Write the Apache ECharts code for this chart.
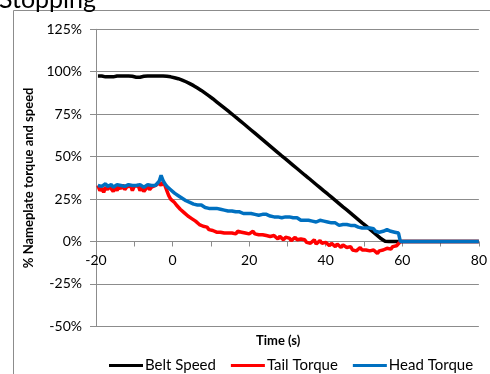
<!DOCTYPE html>
<html>
<head>
<meta charset="utf-8">
<script src="https://cdn.jsdelivr.net/npm/echarts@6/dist/echarts.min.js"></script>
<style>
  html, body { margin: 0; padding: 0; background: #fff; }
  #chart { width: 490px; height: 374px; }
</style>
</head>
<body>
<div id="chart"></div>
<script>
// samples every 0.5 s from -19.5 s to 60 s, then one last sample at 80 s
const tStart = -19.5
const tStep = 0.5
const tEnd = 80

// % of nameplate
const beltSpeed = [
  97.5, 97.5, 97.5, 97.5, 97, 96.8, 97, 96.8, 97, 97.3,
  97.5, 97.5, 97.5, 97.5, 97.5, 97.5, 97.5, 97.5, 97.3, 97,
  96.8, 96.8, 96.8, 97, 97.3, 97.5, 97.5, 97.5, 97.5, 97.5,
  97.5, 97.5, 97.5, 97.5, 97.5, 97.4, 97.3, 97.2, 97, 96.8,
  96.5, 96.2, 95.9, 95.5, 95.1, 94.6, 94.1, 93.6, 93, 92.4,
  91.8, 91.1, 90.4, 89.7, 89, 88.2, 87.4, 86.6, 85.8, 85,
  84.1, 83.2, 82.3, 81.4, 80.5, 79.6, 78.7, 77.8, 76.9, 76,
  75.1, 74.2, 73.2, 72.3, 71.4, 70.4, 69.5, 68.5, 67.6, 66.6,
  65.7, 64.7, 63.8, 62.8, 61.9, 60.9, 60, 59, 58.1, 57.1,
  56.2, 55.3, 54.3, 53.4, 52.4, 51.5, 50.5, 49.6, 48.7, 47.7,
  46.8, 45.8, 44.9, 43.9, 43, 42.1, 41.1, 40.2, 39.2, 38.3,
  37.4, 36.4, 35.5, 34.5, 33.6, 32.7, 31.7, 30.8, 29.8, 28.9,
  28, 27, 26.1, 25.1, 24.2, 23.3, 22.3, 21.4, 20.4, 19.5,
  18.6, 17.6, 16.7, 15.7, 14.8, 13.9, 12.9, 12, 11, 10.1,
  9.2, 8.2, 7.3, 6.3, 5.4, 4.5, 3.5, 2.6, 1.6, 0.8,
  0.2, 0, 0, 0, 0, 0, 0, 0, 0, 0,
  0
]

const tailTorque = [
  33, 30, 31.5, 29, 32, 30.5, 33, 31, 29.5, 32,
  30, 32.5, 31, 33.5, 30.5, 32, 31, 33, 30, 32.5,
  31.5, 33, 30, 32, 29.5, 31, 33, 30.5, 32, 31,
  33, 32, 34.5, 33, 35, 33, 30, 27, 25, 24,
  23, 21.5, 20.5, 19, 18.5, 17, 16.5, 15, 14, 13.5,
  12.5, 12, 11, 10, 9.5, 9, 8, 8.5, 7, 7.5,
  6.5, 6, 5.5, 5, 5.5, 4.5, 5, 4, 5, 4.5,
  5, 5.5, 4.5, 6, 5, 5.5, 6, 5, 5.5, 4.5,
  5.5, 6, 4.5, 5, 4, 3.5, 4, 3, 3.5, 2.5,
  3, 2, 3.5, 2.5, 1.5, 3, 2, 1, 2.5, 1.5,
  2, 0.5, 1.5, 2.5, 1, 0, 1.5, 0.5, 1, -0.5,
  0.5, -1, 0, 1, -1.5, -0.5, 0.5, -1, -2, -0.5,
  -1.5, -2.5, -1, -2, -3, -1.5, -2.5, -3.5, -2, -3,
  -3.5, -4.5, -3, -5, -4, -5.5, -4.5, -3.5, -5, -6,
  -5, -6, -5.5, -6.5, -5, -6, -7, -5.5, -6, -5,
  -4.5, -4, -3.5, -4.5, -3, -3.5, -2.5, -2, 0, 0,
  0
]

const headTorque = [
  33, 33.5, 32.5, 33, 34, 32.5, 33, 33.5, 32, 33,
  33.5, 32.5, 33, 34, 32.5, 33, 33.5, 32.5, 33, 34,
  33, 32.5, 33.5, 33, 32, 33, 33.5, 32.5, 33, 33.5,
  33, 34, 35.5, 39, 36, 34, 32.5, 31.5, 30.5, 29.5,
  28.5, 28, 27, 26.5, 25.5, 25, 24, 24.5, 23, 22.5,
  22, 22.5, 21.5, 21, 21.5, 20.5, 20, 20.5, 19.5, 20,
  19.5, 19, 19.5, 18.5, 19, 18, 18.5, 17.5, 18, 17.5,
  18, 17, 17.5, 16.5, 17.5, 17, 16.5, 17.5, 16.5, 17,
  16.5, 17, 16, 16.5, 15.5, 16.5, 16, 15, 16, 15.5,
  15, 15.5, 14.5, 15.5, 14.5, 15, 14, 15, 14.5, 14,
  14.5, 13.5, 14, 13, 14, 13.5, 12.5, 13.5, 12.5, 13,
  12.5, 13, 12, 12.5, 11.5, 12, 12.5, 11.5, 12, 11,
  11.5, 10.5, 11, 10, 11, 10.5, 9.5, 10.5, 10, 9.5,
  10, 9, 9.5, 8.5, 9.5, 9, 8.5, 9, 8, 8.5,
  8, 7.5, 8, 7, 7.5, 6, 5, 5.5, 6.5, 6,
  6.5, 7, 6.5, 6, 6.5, 5.5, 6, 5, 0, 0,
  0
]

const times = beltSpeed.map((_, i) => (i === beltSpeed.length - 1 ? tEnd : tStart + i * tStep))
const pairs = values => values.map((v, i) => [times[i], v])

const gray = '#8c8c8c'
const font = 'Lato'

const chart = echarts.init(document.getElementById('chart'))

const option = {
  animation: false,
  textStyle: { fontFamily: font },
  graphic: [
    {
      type: 'rect',
      z: -10,
      shape: { x: 13.5, y: 10.5, width: 600, height: 600 },
      style: { fill: 'none', stroke: gray, lineWidth: 1 }
    },
    {
      type: 'text',
      left: -1,
      top: -13,
      style: { text: 'Stopping', font: '25px Lato', fill: '#000' }
    },
    {
      type: 'text',
      left: 256,
      top: 334,
      style: { text: 'Time (s)', font: 'bold 13px Lato', fill: '#000' }
    }
  ],
  legend: {
    data: ['Belt Speed', 'Tail Torque', 'Head Torque'],
    left: 104,
    top: 353,
    icon: 'rect',
    itemWidth: 34,
    itemHeight: 3,
    itemGap: 15,
    textStyle: { fontSize: 15, fontFamily: font, color: '#000', padding: [0, 0, 0, -3] }
  },
  grid: {
    left: 96,
    right: 8,
    top: 29.3,
    bottom: 47.6,
    containLabel: false
  },
  xAxis: {
    type: 'value',
    min: -20,
    max: 80,
    interval: 10,
    // x axis sits on the 0% line: grid bottom is at -50%, 50 units = 84.9 px
    offset: -84.9,
    axisLine: { onZero: false, lineStyle: { color: gray, width: 1 } },
    axisTick: { length: 5, lineStyle: { color: gray } },
    axisLabel: {
      margin: 12,
      fontSize: 14,
      color: '#000',
      formatter: v => (v % 20 === 0 ? String(v) : '')
    },
    splitLine: { show: false }
  },
  yAxis: {
    type: 'value',
    min: -50,
    max: 125,
    interval: 25,
    name: '% Nameplate torque and speed',
    nameLocation: 'middle',
    nameGap: 53,
    nameTextStyle: { fontSize: 13, fontWeight: 'bold', color: '#000', fontFamily: font },
    axisLine: { show: true, onZero: false, lineStyle: { color: gray, width: 1 } },
    axisTick: { show: true, length: 6, lineStyle: { color: gray } },
    axisLabel: { margin: 14, fontSize: 14, color: '#000', formatter: '{value}%' },
    splitLine: { show: true, lineStyle: { color: gray, width: 1 } }
  },
  series: [
    {
      name: 'Belt Speed',
      type: 'line',
      data: pairs(beltSpeed),
      symbol: 'none',
      color: '#000000',
      lineStyle: { width: 3.5, color: '#000000' }
    },
    {
      name: 'Tail Torque',
      type: 'line',
      data: pairs(tailTorque),
      symbol: 'none',
      color: '#ff0000',
      lineStyle: { width: 3.5, color: '#ff0000' }
    },
    {
      name: 'Head Torque',
      type: 'line',
      data: pairs(headTorque),
      symbol: 'none',
      color: '#0070c0',
      lineStyle: { width: 3.5, color: '#0070c0' }
    }
  ]
}

chart.setOption(option)
</script>
</body>
</html>
